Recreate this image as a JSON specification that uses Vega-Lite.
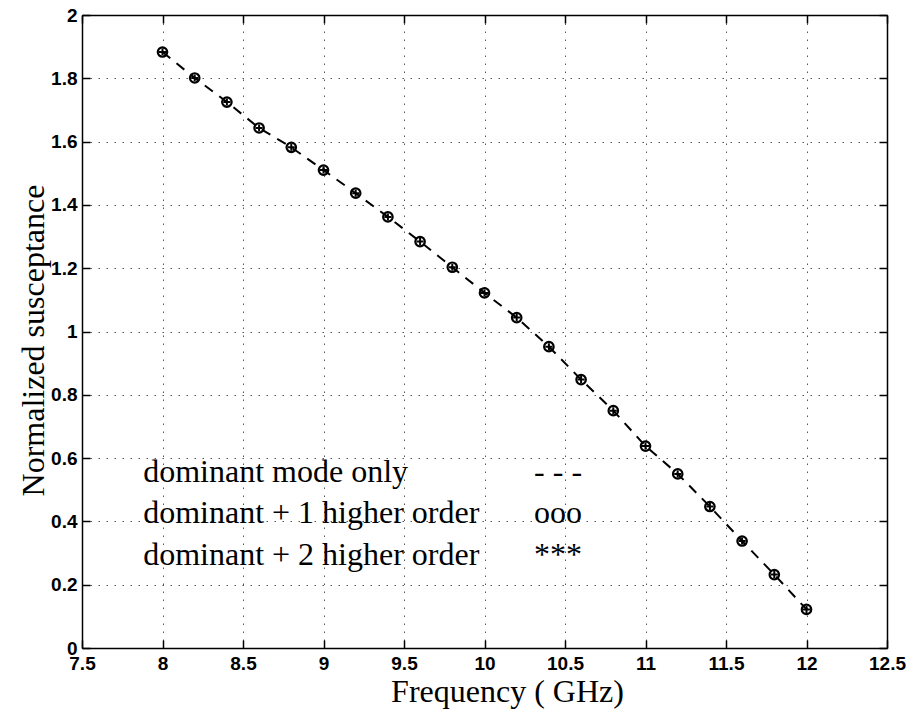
{
  "$schema": "https://vega.github.io/schema/vega-lite/v6.json",
  "width": 805,
  "height": 633,
  "autosize": "none",
  "padding": {"left": 82, "top": 15, "right": 25, "bottom": 63},
  "background": "white",
  "config": {
    "view": {"stroke": null},
    "axis": {
      "domainColor": "black",
      "domainWidth": 1.5,
      "tickColor": "black",
      "tickWidth": 1.5,
      "tickSize": -8,
      "labelFont": "Liberation Sans",
      "labelFontWeight": "bold",
      "labelFontSize": 18,
      "labelColor": "black",
      "labelFlush": false,
      "labelOverlap": false,
      "titleFont": "Liberation Serif",
      "titleFontWeight": "normal",
      "titleFontSize": 32,
      "titleColor": "black",
      "gridColor": "#555555",
      "gridDash": [1.5, 6.5],
      "gridWidth": 1
    }
  },
  "data": {
    "values": [
      {"f": 8.0, "b_dom": 1.883, "b_1": 1.883, "b_2": 1.883},
      {"f": 8.2, "b_dom": 1.801, "b_1": 1.801, "b_2": 1.801},
      {"f": 8.4, "b_dom": 1.725, "b_1": 1.725, "b_2": 1.725},
      {"f": 8.6, "b_dom": 1.643, "b_1": 1.643, "b_2": 1.643},
      {"f": 8.8, "b_dom": 1.582, "b_1": 1.582, "b_2": 1.582},
      {"f": 9.0, "b_dom": 1.510, "b_1": 1.510, "b_2": 1.510},
      {"f": 9.2, "b_dom": 1.437, "b_1": 1.437, "b_2": 1.437},
      {"f": 9.4, "b_dom": 1.362, "b_1": 1.362, "b_2": 1.362},
      {"f": 9.6, "b_dom": 1.284, "b_1": 1.284, "b_2": 1.284},
      {"f": 9.8, "b_dom": 1.203, "b_1": 1.203, "b_2": 1.203},
      {"f": 10.0, "b_dom": 1.122, "b_1": 1.122, "b_2": 1.122},
      {"f": 10.2, "b_dom": 1.044, "b_1": 1.044, "b_2": 1.044},
      {"f": 10.4, "b_dom": 0.952, "b_1": 0.952, "b_2": 0.952},
      {"f": 10.6, "b_dom": 0.848, "b_1": 0.848, "b_2": 0.848},
      {"f": 10.8, "b_dom": 0.750, "b_1": 0.750, "b_2": 0.750},
      {"f": 11.0, "b_dom": 0.638, "b_1": 0.638, "b_2": 0.638},
      {"f": 11.2, "b_dom": 0.550, "b_1": 0.550, "b_2": 0.550},
      {"f": 11.4, "b_dom": 0.447, "b_1": 0.447, "b_2": 0.447},
      {"f": 11.6, "b_dom": 0.338, "b_1": 0.338, "b_2": 0.338},
      {"f": 11.8, "b_dom": 0.232, "b_1": 0.232, "b_2": 0.232},
      {"f": 12.0, "b_dom": 0.122, "b_1": 0.122, "b_2": 0.122}
    ]
  },
  "resolve": {"axis": {"x": "independent", "y": "independent"}},
  "layer": [
    {
      "mark": {"type": "line", "color": "black", "strokeWidth": 2, "strokeDash": [10, 8]},
      "encoding": {
        "x": {
          "field": "f", "type": "quantitative",
          "scale": {"domain": [7.5, 12.5], "nice": false, "zero": false},
          "axis": {
            "orient": "bottom",
            "values": [7.5, 8, 8.5, 9, 9.5, 10, 10.5, 11, 11.5, 12, 12.5],
            "format": "~g",
            "grid": true,
            "labelFont": "Liberation Sans",
            "labelFontWeight": "bold",
            "labelFontSize": 19,
            "labelPadding": 14,
            "title": "Frequency ( GHz)",
            "titleX": 425,
            "titleY": 53,
            "titleAlign": "center",
            "titleBaseline": "alphabetic"
          }
        },
        "y": {
          "field": "b_dom", "type": "quantitative",
          "scale": {"domain": [0, 2], "nice": false},
          "axis": {
            "orient": "left",
            "values": [0, 0.2, 0.4, 0.6, 0.8, 1, 1.2, 1.4, 1.6, 1.8, 2],
            "format": "~g",
            "grid": true,
            "labelFont": "Liberation Sans",
            "labelFontWeight": "bold",
            "labelFontSize": 19,
            "labelPadding": 13,
            "title": "Normalized susceptance",
            "titleX": -39,
            "titleY": 325,
            "titleAngle": -90,
            "titleAlign": "center",
            "titleBaseline": "alphabetic"
          }
        }
      }
    },
    {
      "mark": {"type": "point", "shape": "circle", "filled": false, "color": "black", "size": 90, "strokeWidth": 2.2, "opacity": 1},
      "encoding": {
        "x": {
          "field": "f", "type": "quantitative",
          "axis": {"orient": "top", "values": [7.5, 8, 8.5, 9, 9.5, 10, 10.5, 11, 11.5, 12, 12.5], "labels": false, "title": null, "grid": false}
        },
        "y": {
          "field": "b_1", "type": "quantitative",
          "axis": {"orient": "right", "values": [0, 0.2, 0.4, 0.6, 0.8, 1, 1.2, 1.4, 1.6, 1.8, 2], "labels": false, "title": null, "grid": false}
        }
      }
    },
    {
      "mark": {"type": "point", "shape": "M-1,0L1,0M0,-1L0,1", "filled": false, "color": "black", "size": 49, "strokeWidth": 2, "opacity": 1},
      "encoding": {
        "x": {"field": "f", "type": "quantitative", "axis": null},
        "y": {"field": "b_2", "type": "quantitative", "axis": null}
      }
    },
    {
      "data": {"values": [{"label": "dominant mode only", "key": "- - -"}]},
      "layer": [
        {
          "mark": {"type": "text", "font": "Liberation Serif", "fontSize": 32, "align": "left", "baseline": "middle", "color": "black"},
          "encoding": {"x": {"datum": 7.88, "type": "quantitative", "axis": null}, "y": {"datum": 0.556, "type": "quantitative", "axis": null}, "text": {"field": "label"}}
        },
        {
          "mark": {"type": "text", "font": "Liberation Serif", "fontSize": 32, "align": "center", "baseline": "middle", "color": "black"},
          "encoding": {"x": {"datum": 10.457, "type": "quantitative", "axis": null}, "y": {"datum": 0.556, "type": "quantitative", "axis": null}, "text": {"field": "key"}}
        }
      ]
    },
    {
      "data": {"values": [{"label": "dominant + 1 higher order", "key": "ooo"}]},
      "layer": [
        {
          "mark": {"type": "text", "font": "Liberation Serif", "fontSize": 32, "align": "left", "baseline": "middle", "color": "black"},
          "encoding": {"x": {"datum": 7.88, "type": "quantitative", "axis": null}, "y": {"datum": 0.427, "type": "quantitative", "axis": null}, "text": {"field": "label"}}
        },
        {
          "mark": {"type": "text", "font": "Liberation Serif", "fontSize": 32, "align": "center", "baseline": "middle", "color": "black"},
          "encoding": {"x": {"datum": 10.457, "type": "quantitative", "axis": null}, "y": {"datum": 0.427, "type": "quantitative", "axis": null}, "text": {"field": "key"}}
        }
      ]
    },
    {
      "data": {"values": [{"label": "dominant + 2 higher order", "key": "***"}]},
      "layer": [
        {
          "mark": {"type": "text", "font": "Liberation Serif", "fontSize": 32, "align": "left", "baseline": "middle", "color": "black"},
          "encoding": {"x": {"datum": 7.88, "type": "quantitative", "axis": null}, "y": {"datum": 0.294, "type": "quantitative", "axis": null}, "text": {"field": "label"}}
        },
        {
          "mark": {"type": "text", "font": "Liberation Serif", "fontSize": 32, "align": "center", "baseline": "middle", "color": "black"},
          "encoding": {"x": {"datum": 10.457, "type": "quantitative", "axis": null}, "y": {"datum": 0.294, "type": "quantitative", "axis": null}, "text": {"field": "key"}}
        }
      ]
    }
  ]
}
